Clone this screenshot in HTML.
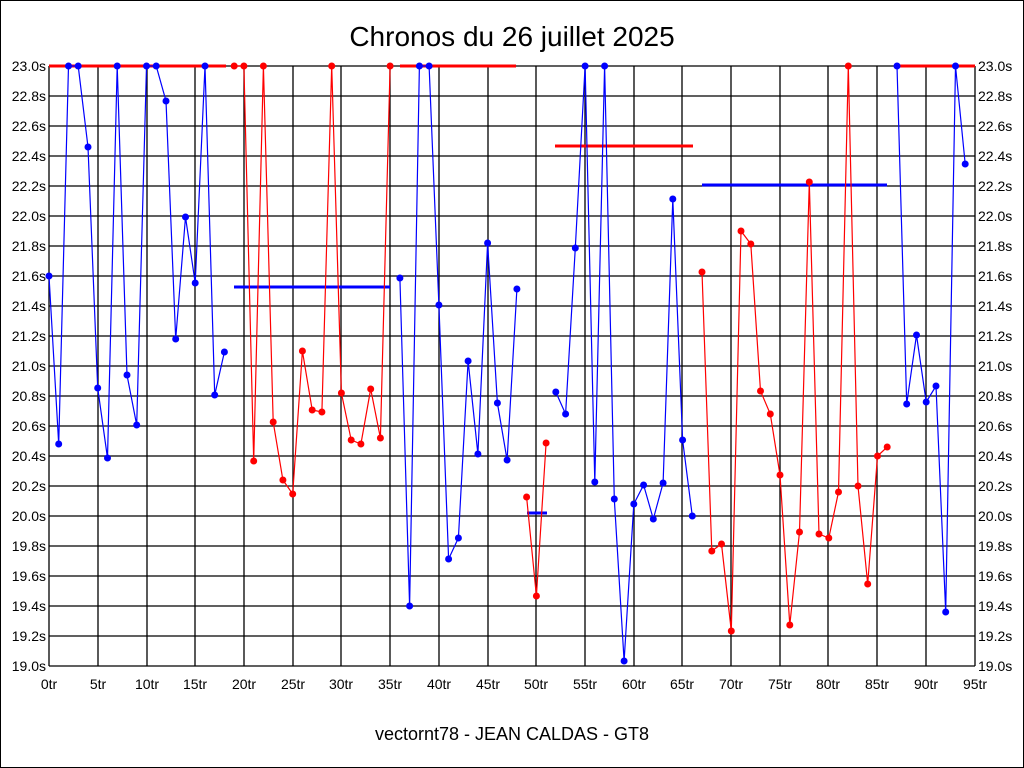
<!DOCTYPE html><html><head><meta charset="utf-8"><style>body{margin:0;background:#fff}svg{display:block}</style></head><body>
<svg width="1024" height="768" xmlns="http://www.w3.org/2000/svg" font-family="Liberation Sans, sans-serif">
<rect x="0.5" y="0.5" width="1023" height="767" fill="#fff" stroke="#000"/>
<text x="512" y="46" font-size="28" text-anchor="middle">Chronos du 26 juillet 2025</text>
<text x="512" y="740" font-size="18" text-anchor="middle">vectornt78 - JEAN CALDAS - GT8</text>
<g stroke="#000" stroke-width="1.3">
<line x1="49" y1="66" x2="975" y2="66"/><line x1="49" y1="96" x2="975" y2="96"/><line x1="49" y1="126" x2="975" y2="126"/><line x1="49" y1="156" x2="975" y2="156"/><line x1="49" y1="186" x2="975" y2="186"/><line x1="49" y1="216" x2="975" y2="216"/><line x1="49" y1="246" x2="975" y2="246"/><line x1="49" y1="276" x2="975" y2="276"/><line x1="49" y1="306" x2="975" y2="306"/><line x1="49" y1="336" x2="975" y2="336"/><line x1="49" y1="366" x2="975" y2="366"/><line x1="49" y1="396" x2="975" y2="396"/><line x1="49" y1="426" x2="975" y2="426"/><line x1="49" y1="456" x2="975" y2="456"/><line x1="49" y1="486" x2="975" y2="486"/><line x1="49" y1="516" x2="975" y2="516"/><line x1="49" y1="546" x2="975" y2="546"/><line x1="49" y1="576" x2="975" y2="576"/><line x1="49" y1="606" x2="975" y2="606"/><line x1="49" y1="636" x2="975" y2="636"/><line x1="49" y1="666" x2="975" y2="666"/>
<line x1="49" y1="66" x2="49" y2="666"/><line x1="98" y1="66" x2="98" y2="666"/><line x1="147" y1="66" x2="147" y2="666"/><line x1="195" y1="66" x2="195" y2="666"/><line x1="244" y1="66" x2="244" y2="666"/><line x1="293" y1="66" x2="293" y2="666"/><line x1="341" y1="66" x2="341" y2="666"/><line x1="390" y1="66" x2="390" y2="666"/><line x1="439" y1="66" x2="439" y2="666"/><line x1="488" y1="66" x2="488" y2="666"/><line x1="536" y1="66" x2="536" y2="666"/><line x1="585" y1="66" x2="585" y2="666"/><line x1="634" y1="66" x2="634" y2="666"/><line x1="682" y1="66" x2="682" y2="666"/><line x1="731" y1="66" x2="731" y2="666"/><line x1="780" y1="66" x2="780" y2="666"/><line x1="828" y1="66" x2="828" y2="666"/><line x1="877" y1="66" x2="877" y2="666"/><line x1="926" y1="66" x2="926" y2="666"/><line x1="975" y1="66" x2="975" y2="666"/>
</g>
<g font-size="14" text-anchor="end">
<text x="46" y="71">23.0s</text><text x="46" y="101">22.8s</text><text x="46" y="131">22.6s</text><text x="46" y="161">22.4s</text><text x="46" y="191">22.2s</text><text x="46" y="221">22.0s</text><text x="46" y="251">21.8s</text><text x="46" y="281">21.6s</text><text x="46" y="311">21.4s</text><text x="46" y="341">21.2s</text><text x="46" y="371">21.0s</text><text x="46" y="401">20.8s</text><text x="46" y="431">20.6s</text><text x="46" y="461">20.4s</text><text x="46" y="491">20.2s</text><text x="46" y="521">20.0s</text><text x="46" y="551">19.8s</text><text x="46" y="581">19.6s</text><text x="46" y="611">19.4s</text><text x="46" y="641">19.2s</text><text x="46" y="671">19.0s</text>
</g>
<g font-size="14">
<text x="978" y="71">23.0s</text><text x="978" y="101">22.8s</text><text x="978" y="131">22.6s</text><text x="978" y="161">22.4s</text><text x="978" y="191">22.2s</text><text x="978" y="221">22.0s</text><text x="978" y="251">21.8s</text><text x="978" y="281">21.6s</text><text x="978" y="311">21.4s</text><text x="978" y="341">21.2s</text><text x="978" y="371">21.0s</text><text x="978" y="401">20.8s</text><text x="978" y="431">20.6s</text><text x="978" y="461">20.4s</text><text x="978" y="491">20.2s</text><text x="978" y="521">20.0s</text><text x="978" y="551">19.8s</text><text x="978" y="581">19.6s</text><text x="978" y="611">19.4s</text><text x="978" y="641">19.2s</text><text x="978" y="671">19.0s</text>
</g>
<g font-size="14" text-anchor="middle">
<text x="49" y="689">0tr</text><text x="98" y="689">5tr</text><text x="147" y="689">10tr</text><text x="195" y="689">15tr</text><text x="244" y="689">20tr</text><text x="293" y="689">25tr</text><text x="341" y="689">30tr</text><text x="390" y="689">35tr</text><text x="439" y="689">40tr</text><text x="488" y="689">45tr</text><text x="536" y="689">50tr</text><text x="585" y="689">55tr</text><text x="634" y="689">60tr</text><text x="682" y="689">65tr</text><text x="731" y="689">70tr</text><text x="780" y="689">75tr</text><text x="828" y="689">80tr</text><text x="877" y="689">85tr</text><text x="926" y="689">90tr</text><text x="975" y="689">95tr</text>
</g>
<g stroke-width="3">
<line x1="49" y1="66" x2="226" y2="66" stroke="#f00"/>
<line x1="400" y1="66" x2="516" y2="66" stroke="#f00"/>
<line x1="555" y1="146" x2="693" y2="146" stroke="#f00"/>
<line x1="897" y1="66" x2="975" y2="66" stroke="#f00"/>
<line x1="234" y1="287" x2="390" y2="287" stroke="#00f"/>
<line x1="527" y1="513" x2="547" y2="513" stroke="#00f"/>
<line x1="702" y1="185" x2="887" y2="185" stroke="#00f"/>
</g>
<g fill="none" stroke-width="1.2">
<polyline stroke="#00f" points="49,276 58.7,444 68.5,66 78.2,66 88,147 97.7,388 107.5,458 117.2,66 127,375 136.7,425 146.5,66 156.2,66 166,101 175.7,339 185.5,217 195.2,283 205,66 214.7,395 224.4,352"/>
<polyline stroke="#f00" points="234.2,66 243.9,66 253.7,461 263.4,66 273.2,422 282.9,480 292.7,494 302.4,351 312.2,410 321.9,412 331.7,66 341.4,393 351.2,440 360.9,444 370.7,389 380.4,438 390.1,66"/>
<polyline stroke="#00f" points="399.9,278 409.6,606 419.4,66 429.1,66 438.9,305 448.6,559 458.4,538 468.1,361 477.9,454 487.6,243 497.4,403 507.1,460 516.9,289"/>
<polyline stroke="#f00" points="526.6,497 536.4,596 546.1,443"/>
<polyline stroke="#00f" points="555.8,392 565.6,414 575.3,248 585.1,66 594.8,482 604.6,66 614.3,499 624.1,661 633.8,504 643.6,485 653.3,519 663.1,483 672.8,199 682.6,440 692.3,516"/>
<polyline stroke="#f00" points="702,272 711.8,551 721.5,544 731.3,631 741,231 750.8,244 760.5,391 770.3,414 780,475 789.8,625 799.5,532 809.3,182 819,534 828.8,538 838.5,492 848.3,66 858,486 867.7,584 877.5,456 887.2,447"/>
<polyline stroke="#00f" points="897,66 906.7,404 916.5,335 926.2,402 936,386 945.7,612 955.5,66 965.2,164"/>
</g>
<g fill="#00f">
<circle cx="49" cy="276" r="3.5"/><circle cx="58.7" cy="444" r="3.5"/><circle cx="68.5" cy="66" r="3.5"/><circle cx="78.2" cy="66" r="3.5"/><circle cx="88" cy="147" r="3.5"/><circle cx="97.7" cy="388" r="3.5"/><circle cx="107.5" cy="458" r="3.5"/><circle cx="117.2" cy="66" r="3.5"/><circle cx="127" cy="375" r="3.5"/><circle cx="136.7" cy="425" r="3.5"/><circle cx="146.5" cy="66" r="3.5"/><circle cx="156.2" cy="66" r="3.5"/><circle cx="166" cy="101" r="3.5"/><circle cx="175.7" cy="339" r="3.5"/><circle cx="185.5" cy="217" r="3.5"/><circle cx="195.2" cy="283" r="3.5"/><circle cx="205" cy="66" r="3.5"/><circle cx="214.7" cy="395" r="3.5"/><circle cx="224.4" cy="352" r="3.5"/>
<circle cx="399.9" cy="278" r="3.5"/><circle cx="409.6" cy="606" r="3.5"/><circle cx="419.4" cy="66" r="3.5"/><circle cx="429.1" cy="66" r="3.5"/><circle cx="438.9" cy="305" r="3.5"/><circle cx="448.6" cy="559" r="3.5"/><circle cx="458.4" cy="538" r="3.5"/><circle cx="468.1" cy="361" r="3.5"/><circle cx="477.9" cy="454" r="3.5"/><circle cx="487.6" cy="243" r="3.5"/><circle cx="497.4" cy="403" r="3.5"/><circle cx="507.1" cy="460" r="3.5"/><circle cx="516.9" cy="289" r="3.5"/>
<circle cx="555.8" cy="392" r="3.5"/><circle cx="565.6" cy="414" r="3.5"/><circle cx="575.3" cy="248" r="3.5"/><circle cx="585.1" cy="66" r="3.5"/><circle cx="594.8" cy="482" r="3.5"/><circle cx="604.6" cy="66" r="3.5"/><circle cx="614.3" cy="499" r="3.5"/><circle cx="624.1" cy="661" r="3.5"/><circle cx="633.8" cy="504" r="3.5"/><circle cx="643.6" cy="485" r="3.5"/><circle cx="653.3" cy="519" r="3.5"/><circle cx="663.1" cy="483" r="3.5"/><circle cx="672.8" cy="199" r="3.5"/><circle cx="682.6" cy="440" r="3.5"/><circle cx="692.3" cy="516" r="3.5"/>
<circle cx="897" cy="66" r="3.5"/><circle cx="906.7" cy="404" r="3.5"/><circle cx="916.5" cy="335" r="3.5"/><circle cx="926.2" cy="402" r="3.5"/><circle cx="936" cy="386" r="3.5"/><circle cx="945.7" cy="612" r="3.5"/><circle cx="955.5" cy="66" r="3.5"/><circle cx="965.2" cy="164" r="3.5"/>
</g>
<g fill="#f00">
<circle cx="234.2" cy="66" r="3.5"/><circle cx="243.9" cy="66" r="3.5"/><circle cx="253.7" cy="461" r="3.5"/><circle cx="263.4" cy="66" r="3.5"/><circle cx="273.2" cy="422" r="3.5"/><circle cx="282.9" cy="480" r="3.5"/><circle cx="292.7" cy="494" r="3.5"/><circle cx="302.4" cy="351" r="3.5"/><circle cx="312.2" cy="410" r="3.5"/><circle cx="321.9" cy="412" r="3.5"/><circle cx="331.7" cy="66" r="3.5"/><circle cx="341.4" cy="393" r="3.5"/><circle cx="351.2" cy="440" r="3.5"/><circle cx="360.9" cy="444" r="3.5"/><circle cx="370.7" cy="389" r="3.5"/><circle cx="380.4" cy="438" r="3.5"/><circle cx="390.1" cy="66" r="3.5"/>
<circle cx="526.6" cy="497" r="3.5"/><circle cx="536.4" cy="596" r="3.5"/><circle cx="546.1" cy="443" r="3.5"/>
<circle cx="702" cy="272" r="3.5"/><circle cx="711.8" cy="551" r="3.5"/><circle cx="721.5" cy="544" r="3.5"/><circle cx="731.3" cy="631" r="3.5"/><circle cx="741" cy="231" r="3.5"/><circle cx="750.8" cy="244" r="3.5"/><circle cx="760.5" cy="391" r="3.5"/><circle cx="770.3" cy="414" r="3.5"/><circle cx="780" cy="475" r="3.5"/><circle cx="789.8" cy="625" r="3.5"/><circle cx="799.5" cy="532" r="3.5"/><circle cx="809.3" cy="182" r="3.5"/><circle cx="819" cy="534" r="3.5"/><circle cx="828.8" cy="538" r="3.5"/><circle cx="838.5" cy="492" r="3.5"/><circle cx="848.3" cy="66" r="3.5"/><circle cx="858" cy="486" r="3.5"/><circle cx="867.7" cy="584" r="3.5"/><circle cx="877.5" cy="456" r="3.5"/><circle cx="887.2" cy="447" r="3.5"/>
</g>
</svg>
</body></html>
